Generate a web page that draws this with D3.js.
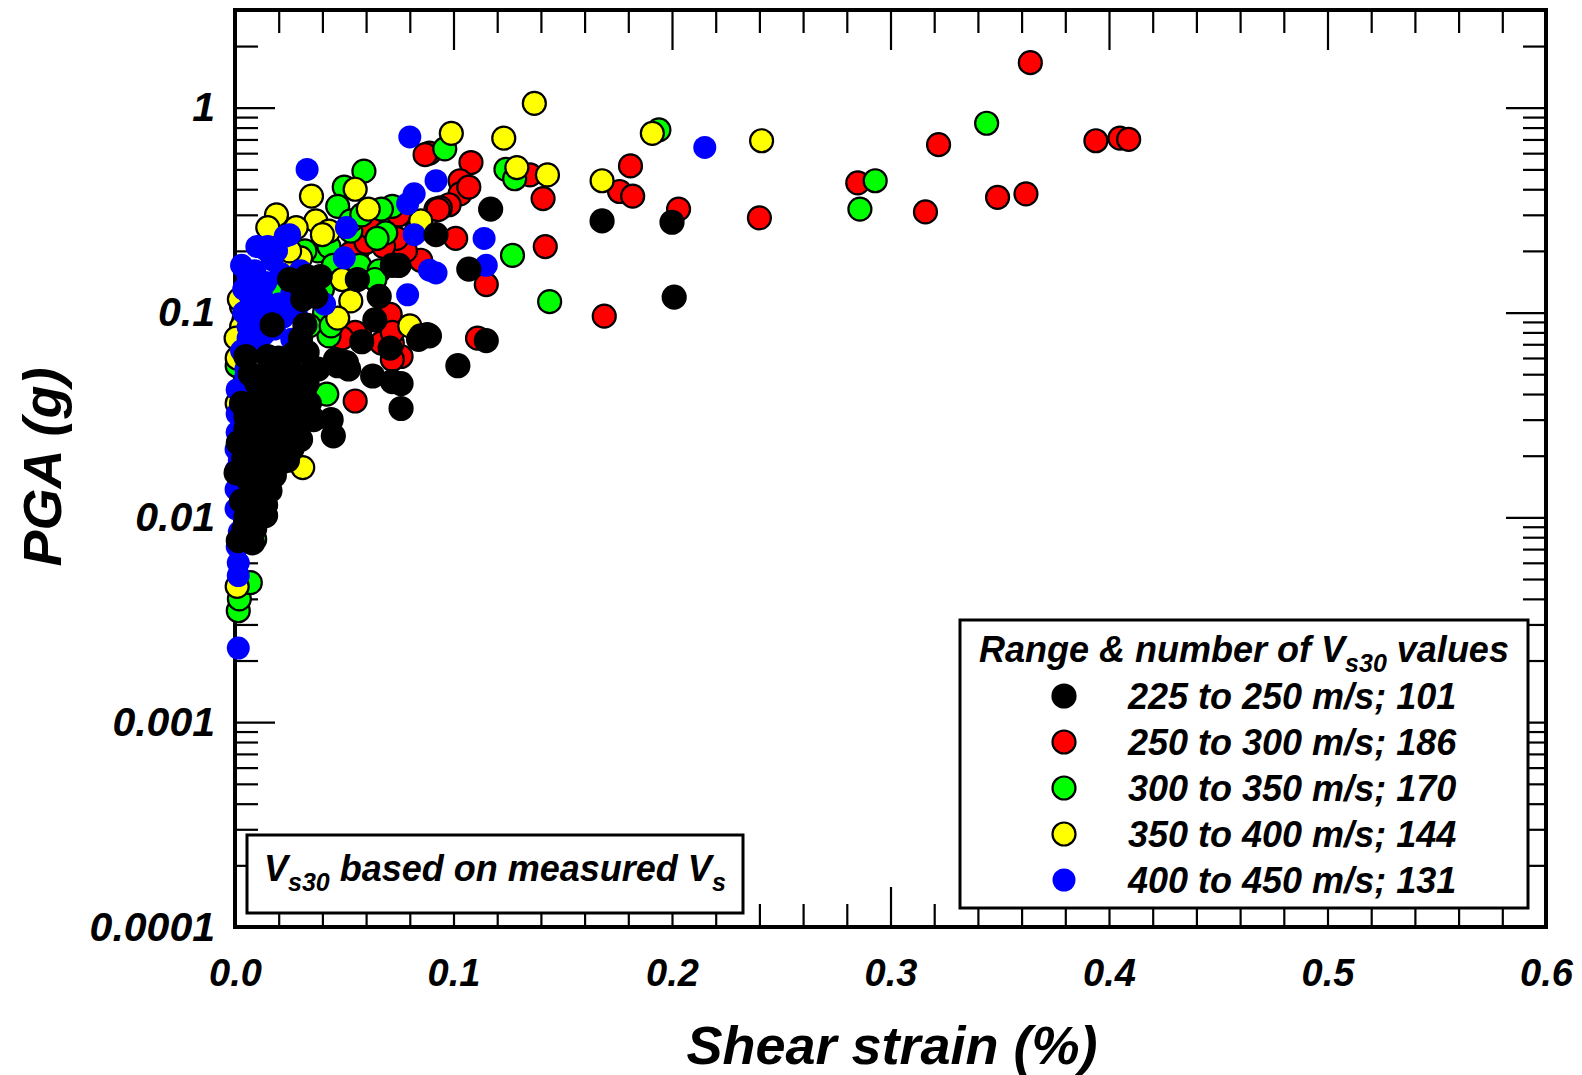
<!DOCTYPE html>
<html>
<head>
<meta charset="utf-8">
<script src="https://cdnjs.cloudflare.com/ajax/libs/d3/7.8.5/d3.min.js"></script>
<style>
body { margin: 0; background: #fff; }
svg text { font-family: "Liberation Sans", Arial, sans-serif; font-weight: bold; font-style: italic; fill: #000; }
</style>
</head>
<body>
<div id="chart"></div>
<script>

// shear strain (%) , PGA (g)
var vs225to250 = [
    [0.117,0.32],[0.168,0.28],[0.200,0.276],[0.201,0.119],[0.089,0.077],[0.115,0.073],[0.102,0.055],[0.107,0.163],
    [0.092,0.24],[0.085,0.077],[0.076,0.045],[0.076,0.034],[0.075,0.17],[0.025,0.145],[0.033,0.15],[0.039,0.15],
    [0.031,0.116],[0.056,0.145],[0.066,0.12],[0.072,0.17],[0.017,0.087],[0.032,0.087],[0.064,0.092],[0.071,0.067],
    [0.058,0.072],[0.084,0.074],[0.088,0.078],[0.072,0.046],[0.044,0.030],[0.045,0.025],[0.063,0.049],[0.033,0.064],
    [0.047,0.055],[0.051,0.057],[0.005,0.061],[0.015,0.061],[0.046,0.059],[0.032,0.12],[0.037,0.12],[0.026,0.051],
    [0.038,0.053],[0.052,0.053],[0.0015,0.0077],[0.008,0.0075],[0.012,0.0104],[0.005,0.010],[0.003,0.012],
    [0.011,0.0127],[0.014,0.0102],[0.005,0.031],[0.006,0.023],[0.006,0.0153],[0.005,0.016],[0.011,0.0185],
    [0.015,0.020],[0.021,0.0185],[0.026,0.0215],[0.018,0.025],[0.026,0.028],[0.031,0.030],[0.009,0.036],
    [0.014,0.042],[0.023,0.045],[0.031,0.049],[0.015,0.051],[0.0015,0.0231],[0.0005,0.0165],[0.011,0.031],
    [0.026,0.034],[0.020,0.036],[0.010,0.045],[0.020,0.060],[0.030,0.075],[0.009,0.025],[0.030,0.135],
    [0.008,0.013],[0.016,0.0135],[0.010,0.0165],[0.018,0.016],[0.024,0.019],[0.004,0.0195],[0.010,0.022],
    [0.016,0.027],[0.022,0.031],[0.029,0.040],[0.034,0.036],[0.005,0.027],[0.011,0.038],[0.018,0.048],
    [0.025,0.040],[0.003,0.036],[0.007,0.050],[0.021,0.055],[0.027,0.063],[0.033,0.045],[0.036,0.030],
    [0.009,0.0088],[0.004,0.0087],[0.014,0.0115],[0.020,0.023],[0.030,0.024]
];
var vs250to300 = [
    [0.364,1.66],[0.322,0.66],[0.394,0.69],[0.405,0.71],[0.409,0.70],[0.285,0.43],[0.316,0.31],[0.349,0.365],
    [0.362,0.38],[0.240,0.29],[0.108,0.54],[0.135,0.47],[0.141,0.36],[0.142,0.21],[0.169,0.096],[0.203,0.32],
    [0.176,0.39],[0.182,0.37],[0.181,0.52],[0.111,0.075],[0.115,0.137],[0.101,0.23],[0.103,0.44],[0.103,0.38],
    [0.098,0.336],[0.094,0.324],[0.089,0.60],[0.087,0.59],[0.0755,0.18],[0.076,0.061],[0.092,0.32],[0.071,0.094],
    [0.057,0.078],[0.072,0.059],[0.055,0.037],[0.072,0.071],[0.055,0.080],[0.056,0.20],[0.075,0.17],[0.085,0.18],
    [0.078,0.20],[0.075,0.30],[0.074,0.23],[0.053,0.195],[0.067,0.071],[0.071,0.098],[0.072,0.080],[0.035,0.038],
    [0.060,0.22],[0.107,0.41],[0.093,0.318],[0.062,0.26],[0.068,0.21],[0.049,0.075],[0.083,0.25]
];
var vs300to350 = [
    [0.344,0.84],[0.293,0.44],[0.286,0.32],[0.096,0.63],[0.124,0.50],[0.128,0.45],[0.127,0.19],[0.144,0.113],
    [0.194,0.78],[0.059,0.49],[0.050,0.41],[0.047,0.33],[0.072,0.33],[0.069,0.245],[0.067,0.32],[0.065,0.23],
    [0.038,0.20],[0.057,0.17],[0.066,0.16],[0.064,0.145],[0.032,0.20],[0.043,0.21],[0.042,0.040],[0.043,0.077],
    [0.041,0.10],[0.034,0.086],[0.044,0.086],[0.0015,0.0035],[0.002,0.004],[0.007,0.0048],[0.009,0.0078],
    [0.001,0.055],[0.020,0.13],[0.053,0.25],[0.053,0.28],[0.045,0.17],[0.058,0.30],[0.040,0.13]
];
var vs350to400 = [
    [0.241,0.69],[0.099,0.75],[0.123,0.71],[0.129,0.51],[0.143,0.47],[0.168,0.44],[0.191,0.75],[0.137,1.05],
    [0.055,0.40],[0.035,0.37],[0.061,0.32],[0.019,0.30],[0.037,0.28],[0.043,0.25],[0.085,0.28],[0.015,0.26],
    [0.028,0.26],[0.030,0.185],[0.049,0.145],[0.018,0.107],[0.053,0.114],[0.047,0.094],[0.080,0.086],[0.004,0.091],
    [0.003,0.107],[0.002,0.116],[0.003,0.085],[0.031,0.0175],[0.001,0.0046],[0.001,0.036],[0.0005,0.075],
    [0.001,0.060],[0.022,0.17],[0.025,0.20],[0.040,0.24]
];
var vs400to450 = [
    [0.215,0.64],[0.080,0.72],[0.033,0.50],[0.092,0.44],[0.082,0.38],[0.079,0.34],[0.082,0.24],[0.092,0.156],
    [0.079,0.122],[0.114,0.23],[0.115,0.17],[0.051,0.26],[0.050,0.185],[0.089,0.161],[0.025,0.24],[0.015,0.21],
    [0.010,0.21],[0.009,0.16],[0.023,0.236],[0.014,0.203],[0.017,0.181],[0.014,0.14],[0.026,0.125],[0.011,0.11],
    [0.008,0.096],[0.018,0.083],[0.026,0.074],[0.009,0.069],[0.005,0.053],[0.041,0.11],[0.0015,0.0023],
    [0.0015,0.0052],[0.0015,0.006],[0.001,0.0072],[0.0005,0.011],[0.0005,0.0137],[0.0005,0.017],[0.0005,0.0215],
    [0.001,0.026],[0.001,0.032],[0.001,0.042],[0.005,0.049],[0.004,0.13],[0.006,0.085],[0.003,0.065],
    [0.004,0.10],[0.007,0.12],[0.012,0.125],[0.020,0.11],[0.016,0.095],[0.022,0.095],[0.006,0.075],[0.013,0.078],
    [0.028,0.10],[0.030,0.16],[0.021,0.155],[0.019,0.20],[0.006,0.15],[0.003,0.17],[0.002,0.0085],[0.002,0.019]
];

var legendLabels = ["225 to 250 m/s; 101", "250 to 300 m/s; 186", "300 to 350 m/s; 170", "350 to 400 m/s; 144", "400 to 450 m/s; 131"];
var seriesColors = ["#000000", "#ff0000", "#00ff00", "#ffff00", "#0000ff"];
var allSeries = [vs225to250, vs250to300, vs300to350, vs350to400, vs400to450];

var xTickValues = [0, 0.1, 0.2, 0.3, 0.4, 0.5, 0.6];
var xTickLabels = ["0.0", "0.1", "0.2", "0.3", "0.4", "0.5", "0.6"];
var yTickValues = [0.0001, 0.001, 0.01, 0.1, 1];
var yTickLabels = ["0.0001", "0.001", "0.01", "0.1", "1"];

//plot box
var plotLeft = 235, plotRight = 1546, plotTop = 10, plotBottom = 927;

var x = d3.scaleLinear().domain([0, 0.6]).range([plotLeft, plotRight]);
var y = d3.scaleLog().domain([0.0001, 3]).range([plotBottom, plotTop]);

var xMinor = d3.range(1, 30).map(function(i) { return i * 0.02; })
    .filter(function(d, i) { return (i + 1) % 5 !== 0; });
var yMinor = [];
[-4, -3, -2, -1, 0].forEach(function(e) {
    for (var m = 2; m <= 9; m++) {
        var v = m * Math.pow(10, e);
        if (v < 3) yMinor.push(v);
    }
});

var svg = d3.select("#chart")
    .append("svg")
    .attr("width", 1582)
    .attr("height", 1075);

function styleAxis(size) {
    return function(g) {
        g.select(".domain").remove();
        g.selectAll(".tick line").attr("stroke", "#000").attr("stroke-width", 2.2);
        g.selectAll(".tick text").style("font-size", size + "px");
    };
}

// ticks, all pointing inward
svg.append("g").attr("transform", "translate(0," + plotBottom + ")")
    .call(d3.axisBottom(x).tickValues(xMinor).tickSize(-23).tickFormat("")).call(styleAxis(38));
svg.append("g").attr("transform", "translate(0," + plotBottom + ")")
    .call(d3.axisBottom(x).tickValues(xTickValues).tickSize(-40).tickPadding(32)
        .tickFormat(function(d, i) { return xTickLabels[i]; }))
    .call(styleAxis(38));
svg.append("g").attr("transform", "translate(0," + plotTop + ")")
    .call(d3.axisTop(x).tickValues(xMinor).tickSize(-23).tickFormat("")).call(styleAxis(38));
svg.append("g").attr("transform", "translate(0," + plotTop + ")")
    .call(d3.axisTop(x).tickValues(xTickValues).tickSize(-40).tickFormat("")).call(styleAxis(38));

svg.append("g").attr("transform", "translate(" + plotLeft + ",0)")
    .call(d3.axisLeft(y).tickValues(yMinor).tickSize(-23).tickFormat("")).call(styleAxis(41));
svg.append("g").attr("transform", "translate(" + plotLeft + ",0)")
    .call(d3.axisLeft(y).tickValues(yTickValues).tickSize(-40).tickPadding(20)
        .tickFormat(function(d, i) { return yTickLabels[i]; }))
    .call(styleAxis(41));
svg.append("g").attr("transform", "translate(" + plotRight + ",0)")
    .call(d3.axisRight(y).tickValues(yMinor).tickSize(-23).tickFormat("")).call(styleAxis(41));
svg.append("g").attr("transform", "translate(" + plotRight + ",0)")
    .call(d3.axisRight(y).tickValues(yTickValues).tickSize(-40).tickFormat("")).call(styleAxis(41));

svg.append("rect")
    .attr("x", plotLeft).attr("y", plotTop)
    .attr("width", plotRight - plotLeft).attr("height", plotBottom - plotTop)
    .attr("fill", "none").attr("stroke", "#000").attr("stroke-width", 4);

// points: red, green, yellow, blue, then black on top
[1, 2, 3, 4, 0].forEach(function(k) {
    svg.append("g").selectAll("circle")
        .data(allSeries[k])
        .enter().append("circle")
        .attr("cx", function(d) { return x(d[0]); })
        .attr("cy", function(d) { return y(d[1]); })
        .attr("r", 11.5)
        .attr("fill", seriesColors[k])
        .attr("stroke", k === 4 ? "none" : "#000")
        .attr("stroke-width", 2.2);
});

// axis titles
svg.append("text")
    .attr("transform", "translate(892,1064)")
    .attr("text-anchor", "middle")
    .style("font-size", "54px")
    .text("Shear strain (%)");
svg.append("text")
    .attr("transform", "translate(61,467) rotate(-90)")
    .attr("text-anchor", "middle")
    .style("font-size", "54px")
    .text("PGA (g)");

// note box
svg.append("rect")
    .attr("x", 247).attr("y", 835).attr("width", 496).attr("height", 78)
    .attr("fill", "#fff").attr("stroke", "#000").attr("stroke-width", 3);
var note = svg.append("text").attr("x", 264).attr("y", 881).style("font-size", "36px");
note.append("tspan").text("V");
note.append("tspan").attr("dy", 10).style("font-size", "25px").text("s30");
note.append("tspan").attr("dy", -10).text(" based on measured V");
note.append("tspan").attr("dy", 10).style("font-size", "25px").text("s");

// legend
var legend = svg.append("g");
legend.append("rect")
    .attr("x", 960).attr("y", 620).attr("width", 568).attr("height", 288)
    .attr("fill", "#fff").attr("stroke", "#000").attr("stroke-width", 3);
var title = legend.append("text").attr("x", 1244).attr("y", 662)
    .attr("text-anchor", "middle").style("font-size", "36px");
title.append("tspan").text("Range & number of V");
title.append("tspan").attr("dy", 10).style("font-size", "25px").text("s30");
title.append("tspan").attr("dy", -10).text(" values");

var rows = legend.selectAll(".row")
    .data(legendLabels)
    .enter().append("g")
    .attr("class", "row")
    .attr("transform", function(d, i) { return "translate(0," + (696 + i * 46) + ")"; });
rows.append("circle")
    .attr("cx", 1064).attr("cy", 0).attr("r", 11.5)
    .attr("fill", function(d, i) { return seriesColors[i]; })
    .attr("stroke", function(d, i) { return i === 4 ? "none" : "#000"; })
    .attr("stroke-width", 2.2);
rows.append("text")
    .attr("x", 1128).attr("y", 13)
    .style("font-size", "36px")
    .text(function(d) { return d; });

</script>
</body>
</html>
